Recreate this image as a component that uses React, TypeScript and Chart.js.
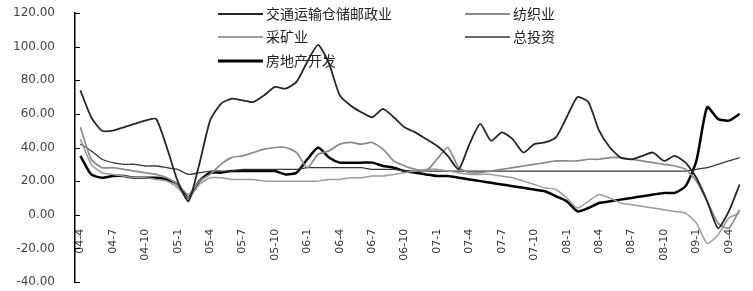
import React, { useEffect, useRef } from 'react';
import { Chart, registerables } from 'chart.js';

Chart.register(...registerables);

const months: string[] = [
  '04-4', '04-5', '04-6', '04-7', '04-8', '04-9', '04-10', '04-11', '04-12',
  '05-1', '05-2', '05-3', '05-4', '05-5', '05-6', '05-7', '05-8', '05-9', '05-10', '05-11', '05-12',
  '06-1', '06-2', '06-3', '06-4', '06-5', '06-6', '06-7', '06-8', '06-9', '06-10', '06-11', '06-12',
  '07-1', '07-2', '07-3', '07-4', '07-5', '07-6', '07-7', '07-8', '07-9', '07-10', '07-11', '07-12',
  '08-1', '08-2', '08-3', '08-4', '08-5', '08-6', '08-7', '08-8', '08-9', '08-10', '08-11', '08-12',
  '09-1', '09-2', '09-3', '09-4', '09-5',
];

const yTicks: number[] = [-40, -20, 0, 20, 40, 60, 80, 100, 120];

const seriesNames: string[] = ['交通运输仓储邮政业', '纺织业', '采矿业', '总投资', '房地产开发'];

const transport: number[] = [
  74, 58, 50, 50, 52, 54, 56, 57, 40, 20, 8, 30, 56, 66, 69, 68, 67, 71, 76, 75, 79,
  91, 101, 90, 71, 65, 61, 58, 63, 58, 52, 49, 45, 41, 35, 27, 42, 54, 44, 49, 45,
  37, 42, 43, 46, 58, 70, 67, 50, 40, 34, 33, 35, 37, 32, 35, 31, 22, 8, -8, 2, 18,
];

const textile: number[] = [
  52, 33, 28, 28, 27, 26, 25, 24, 22, 18, 12, 20, 24, 30, 34, 35, 37, 39, 40, 40, 37,
  28, 36, 38, 42, 43, 42, 43, 39, 32, 29, 27, 26, 33, 40, 28, 25, 25, 26, 27, 28,
  29, 30, 31, 32, 32, 32, 33, 33, 34, 34, 33, 32, 31, 30, 29, 27, 20, 8, -5, -8, 3,
];

const mining: number[] = [
  45, 30, 25, 24, 23, 22, 22, 21, 20, 16, 10, 18, 22, 22, 21, 21, 21, 20, 20, 20, 20,
  20, 20, 21, 21, 22, 22, 23, 23, 24, 25, 26, 27, 27, 26, 25, 24, 24, 24, 23, 22,
  20, 18, 16, 15, 10, 4, 8, 12, 10, 7, 6, 5, 4, 3, 2, 1, -5, -17, -12, -2, 1,
];

const total: number[] = [
  42, 38, 33, 31, 30, 30, 29, 29, 28, 27, 24, 25, 26, 26, 26, 27, 27, 27, 27, 27, 27,
  28, 28, 28, 28, 28, 28, 27, 27, 27, 26, 26, 26, 26, 26, 26, 26, 26, 26, 26, 26,
  26, 26, 26, 26, 26, 26, 26, 26, 26, 26, 26, 26, 26, 26, 26, 26, 27, 28, 30, 32, 34,
];

const realEstate: number[] = [
  35, 24, 22, 23, 23, 22, 22, 22, 21, 18, 10, 20, 25, 25, 26, 26, 26, 26, 26, 24, 25,
  33, 40, 34, 31, 31, 31, 31, 29, 28, 26, 25, 24, 23, 23, 22, 21, 20, 19, 18, 17,
  16, 15, 14, 11, 8, 2, 4, 7, 8, 9, 10, 11, 12, 13, 13, 17, 32, 64, 57, 56, 60,
];

const colors = ['#262626', '#8a8a8a', '#9c9c9c', '#383838', '#000000'];
const widths = [1.8, 1.7, 1.5, 1.3, 2.5];

const legendPlugin = {
  id: 'customLegend',
  afterDatasetsDraw(chart: any) {
    const ctx = chart.ctx;
    const items = [
      { i: 0, x: 218, y: 14 },
      { i: 1, x: 465, y: 14 },
      { i: 2, x: 218, y: 37 },
      { i: 3, x: 465, y: 37 },
      { i: 4, x: 218, y: 61 },
    ];
    ctx.save();
    ctx.font = '14px "Noto Sans CJK SC", sans-serif';
    ctx.textBaseline = 'middle';
    ctx.textAlign = 'left';
    items.forEach((it) => {
      ctx.strokeStyle = colors[it.i];
      ctx.lineWidth = widths[it.i] + 0.4;
      ctx.beginPath();
      ctx.moveTo(it.x, it.y);
      ctx.lineTo(it.x + 45, it.y);
      ctx.stroke();
      ctx.fillStyle = '#222';
      ctx.fillText(seriesNames[it.i], it.x + 48, it.y);
    });
    ctx.restore();
  },
};

const innerTicksPlugin = {
  id: 'innerTicks',
  afterDraw(chart: any) {
    const ys = chart.scales.y;
    const ctx = chart.ctx;
    ctx.save();
    ctx.strokeStyle = '#000';
    ctx.lineWidth = 1;
    ys.ticks.forEach((t: any) => {
      const py = Math.round(ys.getPixelForValue(t.value)) + 0.5;
      ctx.beginPath();
      ctx.moveTo(ys.right, py);
      ctx.lineTo(ys.right + 5, py);
      ctx.stroke();
    });
    ctx.restore();
  },
};

export default function App() {
  const ref = useRef<HTMLCanvasElement | null>(null);

  useEffect(() => {
    if (!ref.current) return;
    const data = [transport, textile, mining, total, realEstate];
    const chart = new Chart(ref.current, {
      type: 'line',
      data: {
        labels: months,
        datasets: data.map((d, i) => ({
          label: seriesNames[i],
          data: d,
          borderColor: colors[i],
          borderWidth: widths[i],
          pointRadius: 0,
          tension: 0.2,
          fill: false,
        })),
      },
      options: {
        animation: false,
        responsive: true,
        maintainAspectRatio: false,
        layout: { padding: { top: 13, bottom: 9, right: 8, left: 0 } },
        plugins: {
          legend: { display: false },
          tooltip: { enabled: false },
        },
        scales: {
          x: {
            type: 'category',
            offset: true,
            position: { y: 0 } as any,
            grid: { display: false },
            border: { display: false },
            ticks: {
              autoSkip: false,
              minRotation: 90,
              maxRotation: 90,
              padding: 6,
              color: '#333',
              font: { size: 11, family: 'DejaVu Sans' },
              callback: (_v: any, i: number) => (i % 3 === 0 ? months[i] : ''),
            },
            afterFit: (s: any) => {
              s.height = 0;
              s.paddingLeft = 0;
              s.paddingRight = 0;
              s.paddingTop = 0;
              s.paddingBottom = 0;
            },
          },
          y: {
            min: -40,
            max: 120,
            afterBuildTicks: (s: any) => {
              s.ticks = yTicks.map((v) => ({ value: v }));
            },
            grid: { display: false },
            border: { display: true, color: '#000', width: 1.5 },
            ticks: {
              color: '#444',
              padding: 12,
              font: { size: 12, family: 'DejaVu Sans' },
              callback: (v: any) => Number(v).toFixed(2),
            },
            afterFit: (s: any) => {
              s.width = 75;
              s.paddingTop = 0;
              s.paddingBottom = 0;
            },
          },
        },
      },
      plugins: [legendPlugin, innerTicksPlugin],
    });
    return () => chart.destroy();
  }, []);

  return (
    <div style={{ position: 'absolute', left: 0, top: 0, width: 753, height: 291, background: '#fff' }}>
      <canvas ref={ref} />
    </div>
  );
}
